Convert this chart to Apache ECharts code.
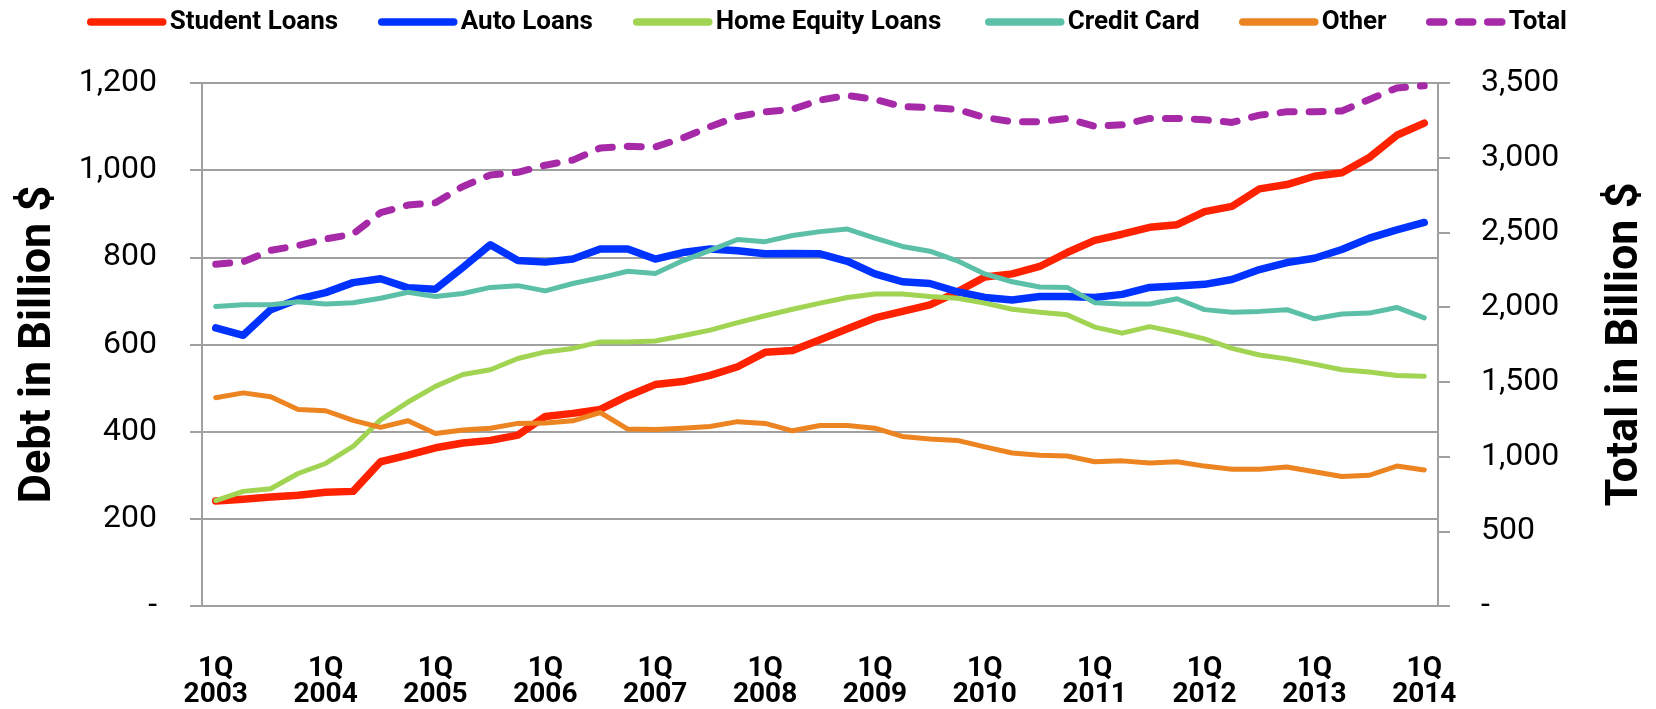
<!DOCTYPE html>
<html>
<head>
<meta charset="utf-8">
<script src="https://cdn.jsdelivr.net/npm/echarts@6/dist/echarts.min.js"></script>
<style>
  html, body { margin: 0; padding: 0; background: #fff; }
  #chart { width: 1656px; height: 709px; }
</style>
</head>
<body>
<div id="chart"></div>
<script>
// quarters 1Q 2003 .. 1Q 2014
const years = [2003, 2004, 2005, 2006, 2007, 2008, 2009, 2010, 2011, 2012, 2013, 2014]
const quarters = []
years.forEach(y => {
  ['1Q', '2Q', '3Q', '4Q'].forEach(q => {
    if (y < 2014 || q === '1Q') quarters.push(q + ' ' + y)
  })
})

// values in billion $
const studentLoans = [241, 245, 250, 254, 261, 263, 331, 346, 363, 374, 380, 392, 435, 442, 451, 482,
  508, 515, 529, 549, 582, 586, 611, 636, 661, 676, 691, 721, 755, 762, 779, 811,
  839, 853, 869, 875, 905, 917, 957, 967, 986, 994, 1029, 1080, 1108]
const autoLoans = [638, 621, 680, 704, 719, 742, 751, 730, 727, 777, 829, 793, 789, 796, 819, 819,
  796, 811, 819, 815, 808, 809, 808, 791, 762, 744, 740, 721, 708, 702, 710, 710,
  708, 715, 731, 734, 738, 749, 772, 788, 798, 818, 844, 863, 880]
const homeEquity = [242, 263, 269, 304, 327, 366, 427, 468, 504, 531, 542, 568, 583, 591, 606, 606,
  608, 620, 633, 650, 666, 681, 695, 708, 716, 716, 710, 706, 695, 681, 674, 668,
  640, 626, 641, 628, 613, 591, 576, 567, 555, 542, 537, 529, 527]
const creditCard = [687, 691, 691, 698, 693, 696, 706, 720, 710, 717, 731, 735, 723, 740, 753, 768,
  763, 792, 816, 841, 836, 850, 859, 865, 844, 825, 814, 792, 762, 744, 732, 731,
  696, 693, 693, 705, 680, 674, 676, 680, 659, 670, 672, 685, 661]
const other = [478, 489, 480, 451, 448, 426, 410, 425, 396, 404, 408, 419, 420, 425, 444, 406,
  405, 408, 412, 423, 419, 402, 414, 414, 408, 389, 383, 380, 365, 351, 346, 344,
  331, 333, 328, 331, 321, 314, 314, 319, 308, 297, 300, 321, 312]
const total = [2287, 2303, 2380, 2412, 2456, 2489, 2632, 2683, 2698, 2808, 2885, 2902, 2950, 2984, 3065, 3076,
  3072, 3132, 3208, 3276, 3307, 3324, 3386, 3417, 3390, 3342, 3335, 3324, 3269, 3241, 3241, 3263,
  3210, 3220, 3263, 3263, 3254, 3236, 3285, 3307, 3307, 3313, 3390, 3467, 3482]

const FONT = 'Roboto'
const AXIS_GREY = '#A0A0A0'

const fmtNum = v => v === 0 ? '-' : v.toLocaleString('en-US')

const chart = echarts.init(document.getElementById('chart'))

// one legend per item so each sits where the original has it
const legendItem = (name, left) => ({
  data: [name],
  left: left,
  top: 9,
  padding: 0,
  itemWidth: 72,
  itemHeight: 14,
  itemGap: 0,
  itemStyle: { opacity: 0 },
  lineStyle: { width: 7.5, cap: 'round' },
  textStyle: { fontFamily: FONT, fontWeight: 'bold', fontSize: 26, color: '#000', padding: [0, 0, 0, 2] }
})

const lineSeries = (name, data, color, width, yIndex, dashed) => ({
  name: name,
  type: 'line',
  yAxisIndex: yIndex,
  data: data,
  symbol: 'none',
  lineStyle: {
    color: color,
    width: width,
    type: dashed ? [14, 15] : 'solid',
    cap: 'round',
    join: 'round'
  },
  itemStyle: { color: color },
  emphasis: { disabled: true }
})

const option = {
  animation: false,
  legend: [
    legendItem('Student Loans', 87),
    legendItem('Auto Loans', 378),
    legendItem('Home Equity Loans', 633),
    legendItem('Credit Card', 985),
    legendItem('Other', 1239),
    legendItem('Total', 1426)
  ],
  grid: { left: 202, right: 210, top: 83, bottom: 95 },
  xAxis: {
    type: 'category',
    data: quarters,
    boundaryGap: true,
    axisLine: { lineStyle: { color: AXIS_GREY, width: 2 } },
    axisTick: { interval: 3, length: 10, lineStyle: { color: AXIS_GREY, width: 2 } },
    axisLabel: {
      interval: 3,
      margin: 50,
      fontFamily: FONT,
      fontWeight: 'bold',
      fontSize: 28,
      lineHeight: 26,
      color: '#000',
      formatter: v => v.replace(' ', '\n')
    },
    splitLine: { show: false }
  },
  yAxis: [
    {
      type: 'value',
      min: 0,
      max: 1200,
      interval: 200,
      name: 'Debt in Billion $',
      nameLocation: 'middle',
      nameRotate: 90,
      nameGap: 141,
      nameTextStyle: { fontFamily: FONT, fontWeight: 'bold', fontSize: 45, color: '#000' },
      axisLine: { show: true, lineStyle: { color: AXIS_GREY, width: 2 } },
      axisTick: { show: true, length: 12, lineStyle: { color: AXIS_GREY, width: 2 } },
      axisLabel: { margin: 45, fontFamily: FONT, fontSize: 32, color: '#000', formatter: fmtNum },
      splitLine: { lineStyle: { color: AXIS_GREY, width: 2 } }
    },
    {
      type: 'value',
      min: 0,
      max: 3500,
      interval: 500,
      position: 'right',
      name: 'Total in Billion $',
      nameLocation: 'middle',
      nameRotate: 90,
      nameGap: 165,
      nameTextStyle: { fontFamily: FONT, fontWeight: 'bold', fontSize: 45, color: '#000' },
      axisLine: { show: true, lineStyle: { color: AXIS_GREY, width: 2 } },
      axisTick: { show: true, length: 12, lineStyle: { color: AXIS_GREY, width: 2 } },
      axisLabel: { margin: 43, fontFamily: FONT, fontSize: 32, color: '#000', formatter: fmtNum },
      splitLine: { show: false }
    }
  ],
  series: [
    lineSeries('Student Loans', studentLoans, '#FF2200', 7.5, 0, false),
    lineSeries('Auto Loans', autoLoans, '#0033FF', 7.5, 0, false),
    lineSeries('Home Equity Loans', homeEquity, '#A0D452', 5, 0, false),
    lineSeries('Credit Card', creditCard, '#5CC0A8', 5, 0, false),
    lineSeries('Other', other, '#EC8422', 5, 0, false),
    lineSeries('Total', total, '#A62AA8', 7, 1, true)
  ]
}

chart.setOption(option)
</script>
</body>
</html>
